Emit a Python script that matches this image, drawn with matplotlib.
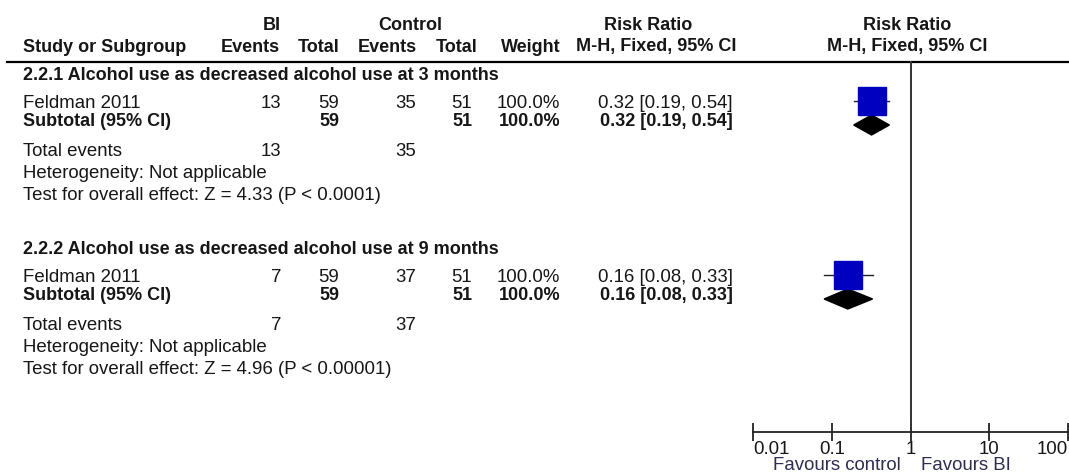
import matplotlib.pyplot as plt
from matplotlib.patches import Polygon

plt.rcParams['font.family'] = ['Liberation Sans', 'DejaVu Sans']

# study rows
groups = ["2.2.1 Alcohol use as decreased alcohol use at 3 months",
          "2.2.2 Alcohol use as decreased alcohol use at 9 months"]
study = ["Feldman 2011", "Feldman 2011"]
bi_events = [13, 7]
bi_total = [59, 59]
ctrl_events = [35, 37]
ctrl_total = [51, 51]
weight = ["100.0%", "100.0%"]
rr = [0.32, 0.16]
rr_lo = [0.19, 0.08]
rr_hi = [0.54, 0.33]
heterogeneity = ["Not applicable", "Not applicable"]
overall = ["Z = 4.33 (P < 0.0001)", "Z = 4.96 (P < 0.00001)"]
ticks = [0.01, 0.1, 1, 10, 100]
tick_labels = ["0.01", "0.1", "1", "10", "100"]

W, H = 1069, 476
txt = '#161616'
fs = 13.4
fs_b = 13

fig = plt.figure(figsize=(W / 100, H / 100), dpi=100)
ax = fig.add_axes([0, 0, 1, 1])
ax.set_xlim(0, W)
ax.set_ylim(H, 0)
ax.axis('off')

# column layout (right edges)
x_name = 23
x_bi_ev, x_bi_tot, x_c_ev, x_c_tot, x_w = 281, 339, 416, 472, 560
x_ci = 733

def t(x, y, s, ha='left', bold=False, color=txt):
    ax.text(x, y, s, ha=ha, va='center', color=color,
            fontsize=fs_b if bold else fs,
            fontweight='bold' if bold else 'normal')

# header
t(272, 25, "BI", 'center', True)
t(410, 25, "Control", 'center', True)
t(648, 25, "Risk Ratio", 'center', True)
t(907, 25, "Risk Ratio", 'center', True)
t(x_name, 47, "Study or Subgroup", bold=True)
t(280, 47, "Events", 'right', True)
t(340, 47, "Total", 'right', True)
t(417, 47, "Events", 'right', True)
t(478, 47, "Total", 'right', True)
t(561, 47, "Weight", 'right', True)
t(656, 47, "M-H, Fixed, 95% CI", 'center', True)
t(907, 47, "M-H, Fixed, 95% CI", 'center', True)
ax.plot([7, W], [62, 62], color='black', lw=1.6)

starts = [75, 249]
rows = []
for g in range(2):
    y0 = starts[g]
    y_st, y_sub = y0 + 29, y0 + 47
    y_te, y_het, y_oe = y0 + 76, y0 + 98, y0 + 120
    rows.append((y_st, y_sub))
    t(x_name, y0, groups[g], bold=True)
    t(x_name, y_st, study[g])
    t(x_bi_ev, y_st, str(bi_events[g]), 'right')
    t(x_bi_tot, y_st, str(bi_total[g]), 'right')
    t(x_c_ev, y_st, str(ctrl_events[g]), 'right')
    t(x_c_tot, y_st, str(ctrl_total[g]), 'right')
    t(x_w, y_st, weight[g], 'right')
    ci = f"{rr[g]:.2f} [{rr_lo[g]:.2f}, {rr_hi[g]:.2f}]"
    t(x_ci, y_st, ci, 'right')
    t(x_name, y_sub, "Subtotal (95% CI)", bold=True)
    t(x_bi_tot, y_sub, str(bi_total[g]), 'right', True)
    t(x_c_tot, y_sub, str(ctrl_total[g]), 'right', True)
    t(x_w, y_sub, weight[g], 'right', True)
    t(x_ci, y_sub, ci, 'right', True)
    t(x_name, y_te, "Total events")
    t(x_bi_ev, y_te, str(bi_events[g]), 'right')
    t(x_c_ev, y_te, str(ctrl_events[g]), 'right')
    t(x_name, y_het, "Heterogeneity: " + heterogeneity[g])
    t(x_name, y_oe, "Test for overall effect: " + overall[g])

# forest panel on a log scale
x0, x1 = 753, 1068
fax = fig.add_axes([x0 / W, 0, (x1 - x0) / W, 1])
fax.set_xscale('log')
fax.set_xlim(0.01, 100)
fax.set_ylim(H, 0)
fax.patch.set_visible(False)
for side in ['top', 'right', 'left']:
    fax.spines[side].set_visible(False)
fax.spines['bottom'].set_position(('data', 432))
fax.spines['bottom'].set_linewidth(1.3)
fax.spines['bottom'].set_color('#222222')
fax.set_xticks(ticks)
fax.set_xticklabels(tick_labels)
fax.minorticks_off()
fax.tick_params(axis='x', direction='inout', length=13, width=1.3,
                color='#222222', labelsize=fs, labelcolor=txt, pad=0)
labels = fax.get_xticklabels()
labels[0].set_horizontalalignment('left')
labels[-1].set_horizontalalignment('right')
fax.set_yticks([])
fax.plot([1, 1], [62, 432], color='#333333', lw=1.4)

for g in range(2):
    y_st, y_sub = rows[g]
    ys = y_st - 3
    fax.plot([rr_lo[g], rr_hi[g]], [ys, ys], color='#222222', lw=1)
    fax.plot(rr[g], ys, marker='s', ms=20, color='#0000c0', mec='#0000c0')
    yd = ys + 24
    fax.add_patch(Polygon([(rr_lo[g], yd), (rr[g], yd - 10), (rr_hi[g], yd),
                           (rr[g], yd + 10)], closed=True, color='black'))

ax.text(837, 466, "Favours control", ha='center', va='center',
        fontsize=fs, color='#2e2e50')
ax.text(966, 466, "Favours BI", ha='center', va='center',
        fontsize=fs, color='#2e2e50')

fig.savefig('out.png', dpi=100)
